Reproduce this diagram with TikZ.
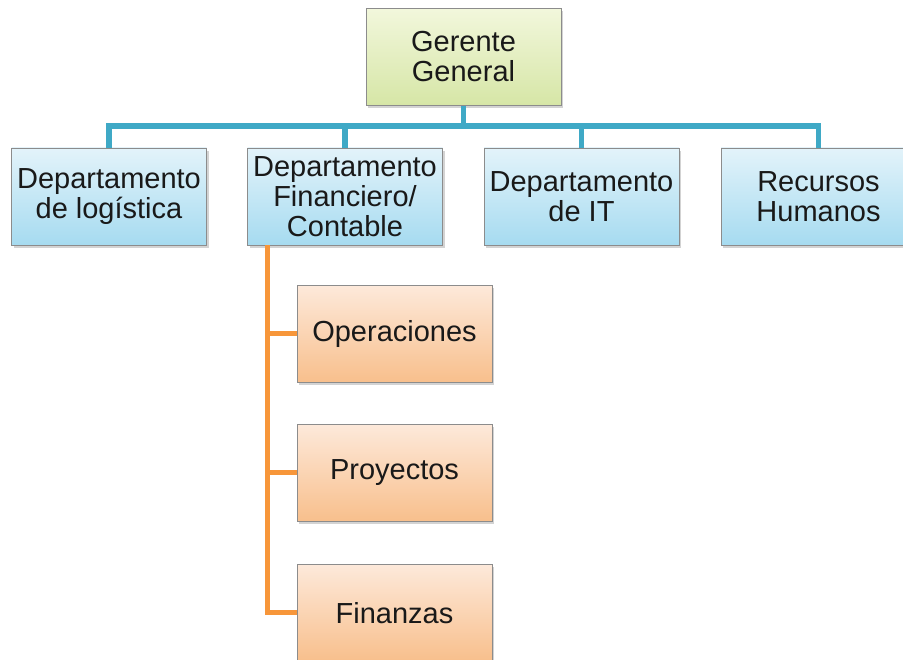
\documentclass[tikz,border=0pt]{standalone}
\usepackage{fontspec}
\setmainfont{Liberation Sans}
\usetikzlibrary{calc,shadows}

\definecolor{busblue}{HTML}{3FA9C6}
\definecolor{subor}{HTML}{F7963A}
\definecolor{boxedge}{HTML}{8C8C8C}
\definecolor{gerTop}{HTML}{F2F7DC}
\definecolor{gerBot}{HTML}{D6E6A6}
\definecolor{deptTop}{HTML}{E3F3FA}
\definecolor{deptBot}{HTML}{A6DBF0}
\definecolor{subTop}{HTML}{FDE9DA}
\definecolor{subBot}{HTML}{F8BF8C}

\tikzset{
  box/.style={draw=boxedge, rectangle, line width=0.8pt, minimum width=195pt, minimum height=97pt,
    align=center, text=black!90, font=\fontsize{29}{30}\selectfont,
    drop shadow={opacity=0.35, shadow xshift=2pt, shadow yshift=-3pt}},
  gerbox/.style={box, top color=gerTop, bottom color=gerBot},
  deptbox/.style={box, top color=deptTop, bottom color=deptBot},
  subbox/.style={box, top color=subTop, bottom color=subBot},
  busline/.style={draw=busblue, line width=5.5pt},
  subline/.style={draw=subor, line width=5pt}
}

\begin{document}
\begin{tikzpicture}[x=1pt,y=1pt]
\clip (0,0) rectangle (903,660);
\useasboundingbox (0,0) rectangle (903,660);

\node [gerbox] (gerente) at (463.5,603) {Gerente\\General};

\node [deptbox] (logistica) at (109,463.5) {Departamento\\de logística};
\node [deptbox] (financiero) at (345,463.5) {Departamento\\Financiero/\\Contable};
\node [deptbox] (it) at (581.5,463.5) {Departamento\\de IT};
\node [deptbox] (rrhh) at (818.5,463.5) {Recursos\\Humanos};

\node [subbox] (operaciones) at (394.5,326) {Operaciones};
\node [subbox] (proyectos) at (394.5,187) {Proyectos};
\node [subbox] (finanzas) at (394.5,47) {Finanzas};

\coordinate (bus) at (463.5,534);
\coordinate (trunk) at ($ (financiero.south west) + (20,0) $);

\draw[busline] (gerente.south) -- (bus);
\draw[busline] (logistica.north) |- (bus) -| (rrhh.north);
\draw[busline] (financiero.north) -- (financiero.north |- bus);
\draw[busline] (it.north) -- (it.north |- bus);

\draw[subline] (trunk) |- (finanzas.west);
\draw[subline] (trunk |- operaciones.west) -- (operaciones.west);
\draw[subline] (trunk |- proyectos.west) -- (proyectos.west);

\end{tikzpicture}
\end{document}
